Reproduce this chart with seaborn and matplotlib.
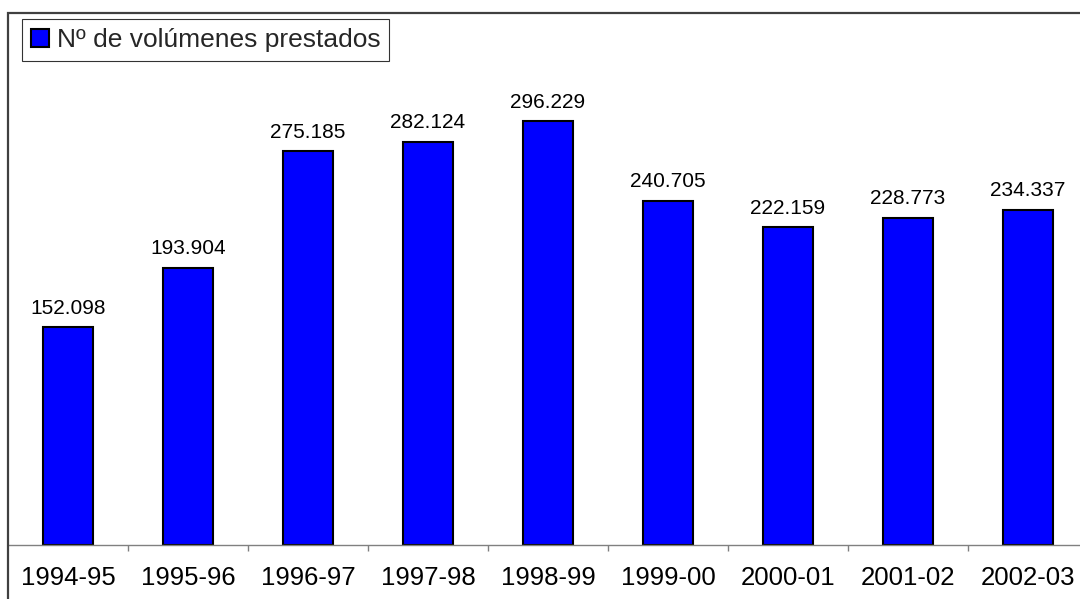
import matplotlib
matplotlib.use("Agg")
import matplotlib.pyplot as plt
import seaborn as sns
from matplotlib.patches import Rectangle

periods = ["1994-95", "1995-96", "1996-97", "1997-98", "1998-99",
           "1999-00", "2000-01", "2001-02", "2002-03"]
volumes = [152098, 193904, 275185, 282124, 296229,
           240705, 222159, 228773, 234337]
series_label = "Nº de volúmenes prestados"

sns.set_style("white")
plt.rcParams["font.family"] = ["Liberation Sans", "DejaVu Sans"]

W, H = 1080, 599
fig = plt.figure(figsize=(W / 100, H / 100), dpi=100)
fig.patch.set_facecolor("white")

# axes: x from 8 px to 1088 px, y from 13 px (top) to 545 px (axis line)
ax = fig.add_axes([8 / W, (H - 545) / H, 1080 / W, (545 - 13) / H])
ax.set_facecolor("none")

sns.barplot(x=periods, y=volumes, color="#0000FF", saturation=1,
            edgecolor="black", linewidth=1.5, width=0.417,
            label=series_label, ax=ax)

ax.set_xlim(-0.5, len(periods) - 0.5)
ax.set_ylim(0, 372000)
ax.set_xlabel("")
ax.set_ylabel("")
ax.set_yticks([])

for s in ["top", "right", "left"]:
    ax.spines[s].set_visible(False)
ax.spines["bottom"].set_color("#808080")
ax.spines["bottom"].set_linewidth(1.0)

ax.set_xticks(range(len(periods)))
ax.set_xticklabels(periods, fontsize=18.5, color="black")
ax.tick_params(axis="x", which="major", length=0, pad=15)
ax.set_xticks([i + 0.5 for i in range(len(periods) - 1)], minor=True)
ax.tick_params(axis="x", which="minor", bottom=True, length=4.5, width=1.0,
               color="#808080", direction="out")

labels = [f"{v:,}".replace(",", ".") for v in volumes]
ax.bar_label(ax.containers[0], labels=labels, padding=7, fontsize=15,
             color="black")

if ax.get_legend() is not None:
    ax.get_legend().remove()
leg = fig.legend(loc="upper left", bbox_to_anchor=(22 / W, 1 - 19 / H),
                 bbox_transform=fig.transFigure, borderaxespad=0,
                 fontsize=19, frameon=True, fancybox=False,
                 handlelength=0.68, handleheight=0.68, handletextpad=0.28,
                 borderpad=0.35)
leg.get_frame().set_edgecolor("black")
leg.get_frame().set_linewidth(0.8)

# chart-area border (top and left visible, rest cropped)
fig.patches.append(Rectangle((8 / W, -0.05), 1.2, (H - 13) / H + 0.05,
                             transform=fig.transFigure, fill=False,
                             edgecolor="#404040", linewidth=1.6, zorder=0))

fig.savefig("out.png", dpi=100, facecolor="white")
